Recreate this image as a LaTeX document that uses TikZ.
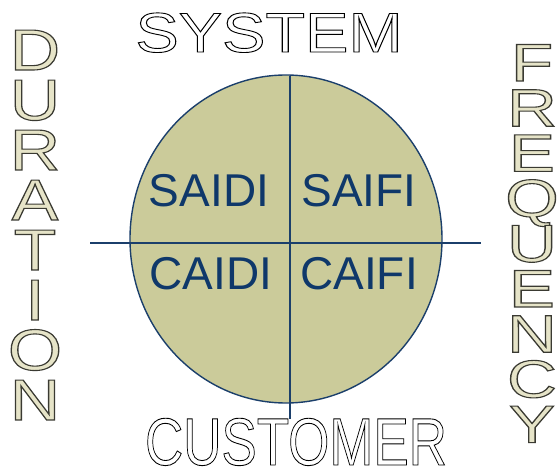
\documentclass[tikz,border=0pt]{standalone}
\usepackage{fontspec}
\setmainfont{Liberation Sans}
\usepackage{xcolor}
\usepackage{tikz}

\definecolor{discfill}{HTML}{CBCB9A}
\definecolor{discline}{HTML}{1B3F6B}
\definecolor{idxtext}{HTML}{0F386A}

% outline lettering through the pdf text render mode
\newcommand{\hollow}[1]{%
  \special{pdf:literal direct q 1 Tr 0.9 w 0 0 0 RG}#1\special{pdf:literal direct Q}}
\newcommand{\shaded}[1]{%
  \special{pdf:literal direct q 2 Tr 1.1 w 0.902 0.894 0.784 rg 0.227 0.227 0.196 RG}#1\special{pdf:literal direct Q}}

\begin{document}
\begin{tikzpicture}[
  x=1pt, y=-1pt,
  disc/.style={draw=discline, fill=discfill, line width=1.4pt},
  axis/.style={draw=discline, line width=1.4pt},
  index/.style={anchor=base, inner sep=0pt, text=idxtext, font=\fontsize{46}{46}\selectfont},
  durletter/.style={anchor=base, inner sep=0pt, xscale=1.2, font=\fontsize{58}{58}\selectfont},
  freqletter/.style={anchor=base, inner sep=0pt, xscale=1.3, font=\fontsize{53}{53}\selectfont}
]
\useasboundingbox (0,0) rectangle (558,468);

% the disc and its two axes
\draw[disc] (286,239) ellipse (156 and 164);
\coordinate (hl) at (90,243);
\coordinate (hr) at (481,243);
\coordinate (vt) at (290,76);
\coordinate (vb) at (290,419);
\draw[axis] (hl) -- (hr);
\draw[axis] (vt) -- (vb);

% reliability indices
\node[index] (saidi) at (209,207) {SAIDI};
\node[index] (saifi) at (359,207) {SAIFI};
\node[index] (caidi) at (211,290) {CAIDI};
\node[index] (caifi) at (359,290) {CAIFI};

% headings
\node[anchor=base, inner sep=0pt, xscale=1.16, font=\fontsize{56}{56}\selectfont] (sys) at (269,52) {\hollow{SYSTEM}};
\node[anchor=base, inner sep=0pt, xscale=0.79, font=\fontsize{67}{67}\selectfont] (cust) at (296,465) {\hollow{CUSTOMER}};

% stacked side labels
\foreach \ch [count=\i from 0] in {D,U,R,A,T,I,O,N}
  \node[durletter] (dur\i) at (35,70+50*\i) {\shaded{\ch}};
\foreach \ch [count=\i from 0] in {F,R,E,Q,U,E,N,C,Y}
  \node[freqletter] (freq\i) at (532,81+45.2*\i) {\shaded{\ch}};

\end{tikzpicture}
\end{document}
